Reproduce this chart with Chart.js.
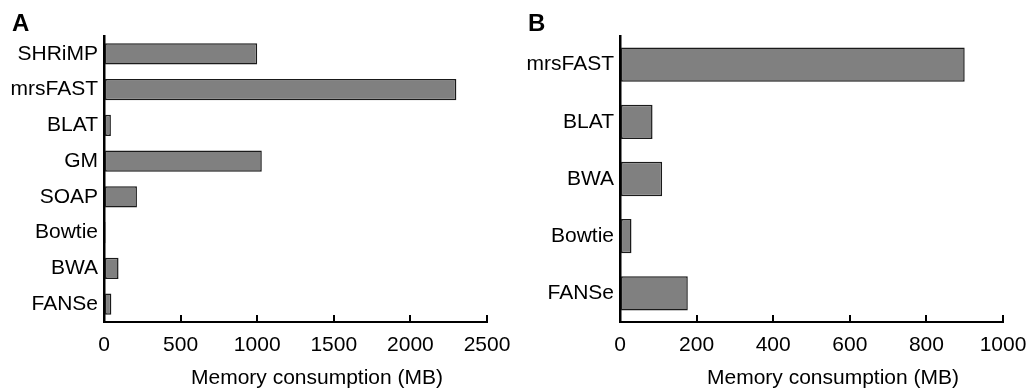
<!DOCTYPE html>
<html>
<head>
<meta charset="utf-8">
<script src="https://cdn.jsdelivr.net/npm/chart.js@4"></script>
<style>
  body { margin: 0; background: #fff; width: 1028px; height: 389px; overflow: hidden; position: relative; font-family: "Liberation Sans", Arial, sans-serif; }
  .panel { position: absolute; top: 0; width: 514px; height: 389px; }
  .letter { position: absolute; top: 11px; font-size: 24px; font-weight: bold; line-height: 24px; color: #000; }
  .xtitle { position: absolute; top: 366px; font-size: 21px; line-height: 21px; color: #000; white-space: nowrap; transform: translateX(-50%); }
</style>
</head>
<body>
<div class="panel" style="left:0"><canvas id="chartA" width="514" height="389"></canvas></div>
<div class="panel" style="left:514px"><canvas id="chartB" width="514" height="389"></canvas></div>
<div class="letter" style="left:12px">A</div>
<div class="letter" style="left:528px">B</div>
<div class="xtitle" style="left:317px">Memory consumption (MB)</div>
<div class="xtitle" style="left:833px">Memory consumption (MB)</div>
<script>
// panel A: read aligners
const toolsA = ["SHRiMP", "mrsFAST", "BLAT", "GM", "SOAP", "Bowtie", "BWA", "FANSe"];
const memoryA = [1000, 2300, 45, 1030, 215, 10, 95, 48];
const ticksA = [0, 500, 1000, 1500, 2000, 2500];

// panel B
const toolsB = ["mrsFAST", "BLAT", "BWA", "Bowtie", "FANSe"];
const memoryB = [900, 85, 110, 30, 177];
const ticksB = [0, 200, 400, 600, 800, 1000];

Chart.defaults.font.family = '"Liberation Sans", Arial, sans-serif';
Chart.defaults.font.size = 21;
Chart.defaults.color = "#000";

function makeChart(id, labels, values, tickValues, plotLeft, padRight) {
    const ctx = document.getElementById(id).getContext('2d');
    return new Chart(ctx, {
        type: "bar",
        data: {
            labels: labels,
            datasets: [{
                data: values,
                backgroundColor: "#808080",
                borderColor: "#1a1a1a",
                borderWidth: 1.5,
                borderSkipped: false,
                barPercentage: 0.6,
                categoryPercentage: 1.0
            }]
        },
        options: {
            indexAxis: "y",
            responsive: false,
            animation: false,
            layout: { padding: { top: 36, right: padRight, left: 0, bottom: 0 } },
            plugins: { legend: { display: false }, tooltip: { enabled: false } },
            scales: {
                x: {
                    min: tickValues[0],
                    max: tickValues[tickValues.length - 1],
                    afterBuildTicks: function (scale) {
                        scale.ticks = tickValues.map(v => ({ value: v }));
                    },
                    afterFit: function (scale) {
                        scale.height = 67;
                        // the layout padding already leaves room for the end labels
                        scale.paddingLeft = 0;
                        scale.paddingRight = 0;
                    },
                    grid: {
                        drawOnChartArea: false,
                        drawTicks: true,
                        tickLength: -7,
                        color: "#000",
                        lineWidth: 2
                    },
                    border: { display: true, color: "#000", width: 2 },
                    ticks: {
                        padding: 18, maxRotation: 0, autoSkip: false,
                        callback: function (value) { return String(value); }
                    }
                },
                y: {
                    afterFit: function (scale) { scale.width = plotLeft; },
                    grid: { display: false, drawTicks: false },
                    border: { display: true, color: "#000", width: 2.5 },
                    ticks: { padding: 6 }
                }
            }
        }
    });
}

makeChart("chartA", toolsA, memoryA, ticksA, 104, 27);
makeChart("chartB", toolsB, memoryB, ticksB, 106, 25);
</script>
</body>
</html>
